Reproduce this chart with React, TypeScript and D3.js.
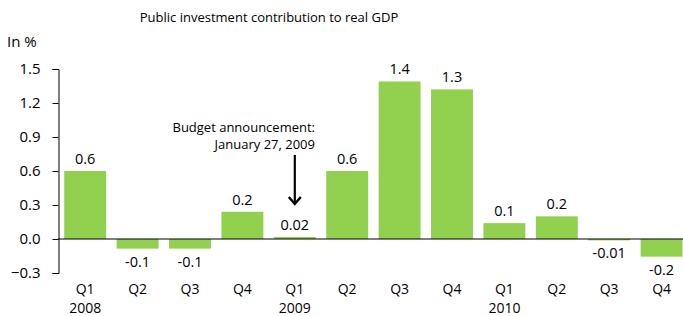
import React, { useEffect, useRef } from 'react';
import * as d3 from 'd3';

const quarters = ['Q1', 'Q2', 'Q3', 'Q4', 'Q1', 'Q2', 'Q3', 'Q4', 'Q1', 'Q2', 'Q3', 'Q4'];
const years = ['2008', '', '', '', '2009', '', '', '', '2010', '', '', ''];
const values = [0.6, -0.085, -0.085, 0.24, 0.018, 0.6, 1.39, 1.32, 0.14, 0.2, -0.012, -0.156];
const valueLabels = ['0.6', '-0.1', '-0.1', '0.2', '0.02', '0.6', '1.4', '1.3', '0.1', '0.2', '-0.01', '-0.2'];
const yTicks = [-0.3, 0, 0.3, 0.6, 0.9, 1.2, 1.5];

function App() {
  const ref = useRef<SVGSVGElement>(null);

  useEffect(() => {
    if (!ref.current) return;
    const width = 683;
    const height = 316;
    const font = "'Open Sans', sans-serif";

    d3.select(ref.current).selectAll('*').remove();
    const svg = d3.select(ref.current)
      .attr('width', width)
      .attr('height', height)
      .style('font-family', font);

    const idx = values.map((_, i) => i);
    const x = d3.scaleBand<number>()
      .domain(idx)
      .range([59, 687.8])
      .paddingInner(0.2)
      .paddingOuter(0.1);

    const y = d3.scaleLinear().domain([-0.3, 1.5]).range([273, 69]);

    // title
    svg.append('text')
      .attr('x', 269)
      .attr('y', 22)
      .attr('text-anchor', 'middle')
      .style('font-size', '13px')
      .attr('fill', '#000')
      .text('Public investment contribution to real GDP');

    svg.append('text')
      .attr('x', 7)
      .attr('y', 47)
      .style('font-size', '15px')
      .attr('fill', '#000')
      .text('In %');

    // bars
    svg.selectAll('.bar')
      .data(values)
      .join('rect')
      .attr('class', 'bar')
      .attr('x', (_, i) => x(i)!)
      .attr('y', (d) => y(Math.max(0, d)))
      .attr('width', x.bandwidth())
      .attr('height', (d) => Math.abs(y(d) - y(0)))
      .attr('fill', '#92d050');

    // value labels
    svg.selectAll('.val')
      .data(values)
      .join('text')
      .attr('class', 'val')
      .attr('x', (_, i) => x(i)! + x.bandwidth() / 2)
      .attr('y', (d) => (d >= 0 ? y(d) - 7 : y(d) + 18))
      .attr('text-anchor', 'middle')
      .style('font-size', '14.5px')
      .attr('fill', '#000')
      .text((_, i) => valueLabels[i]);

    // y axis
    const yAxis = svg.append('g')
      .attr('transform', 'translate(58.5,0)')
      .call(d3.axisLeft(y).tickValues(yTicks).tickSize(6).tickFormat(d3.format('.1f')));
    yAxis.select('.domain').attr('stroke', '#000');
    yAxis.selectAll('line').attr('stroke', '#000');
    yAxis.selectAll('text')
      .attr('x', -18)
      .style('font-size', '15px')
      .style('font-family', font)
      .attr('fill', '#000');

    // zero line
    svg.append('line')
      .attr('x1', 58)
      .attr('x2', width)
      .attr('y1', y(0))
      .attr('y2', y(0))
      .attr('stroke', '#000')
      .attr('stroke-width', 1.2);

    // x labels
    const xl = svg.append('g');
    xl.selectAll('.q')
      .data(quarters)
      .join('text')
      .attr('x', (_, i) => x(i)! + x.bandwidth() / 2)
      .attr('y', 294)
      .attr('text-anchor', 'middle')
      .style('font-size', '14px')
      .attr('fill', '#000')
      .text((d) => d);
    xl.selectAll('.yr')
      .data(years)
      .join('text')
      .attr('x', (_, i) => x(i)! + x.bandwidth() / 2)
      .attr('y', 313)
      .attr('text-anchor', 'middle')
      .style('font-size', '14px')
      .attr('fill', '#000')
      .text((d) => d);

    // annotation
    const ax = x(4)! + x.bandwidth() / 2;
    const ann = svg.append('text')
      .attr('text-anchor', 'end')
      .style('font-size', '13px')
      .attr('fill', '#000');
    ann.append('tspan').attr('x', 315).attr('y', 132).text('Budget announcement:');
    ann.append('tspan').attr('x', 315).attr('y', 149).text('January 27, 2009');

    svg.append('line')
      .attr('x1', ax)
      .attr('x2', ax)
      .attr('y1', 155)
      .attr('y2', 204)
      .attr('stroke', '#000')
      .attr('stroke-width', 2.2);
    svg.append('path')
      .attr('d', `M${ax - 6},${197} L${ax},${204} L${ax + 6},${197}`)
      .attr('fill', 'none')
      .attr('stroke', '#000')
      .attr('stroke-width', 2.4);
  }, []);

  return <svg ref={ref} style={{ position: 'absolute', left: 0, top: 0 }} />;
}

export default App;
